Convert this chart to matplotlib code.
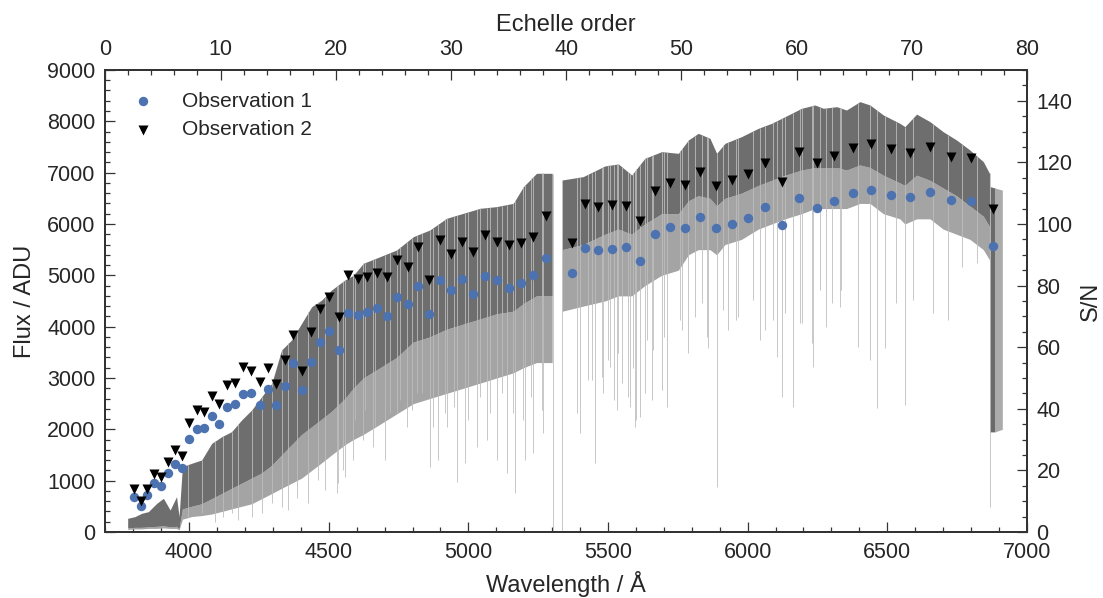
import numpy as np
import matplotlib
matplotlib.use("Agg")
import matplotlib.pyplot as plt
from matplotlib.ticker import MultipleLocator

plt.rcParams['font.family'] = ['Liberation Sans', 'DejaVu Sans']

# ---------------- spectrum ----------------
env_wl = [3780, 3806, 3830, 3854, 3884, 3908, 3932, 3955, 3964, 3976, 4009, 4045, 4081, 4117,
          4152, 4188, 4224, 4260, 4296, 4331, 4367, 4403, 4439, 4475, 4510, 4558, 4588, 4624,
          4684, 4743, 4803, 4862, 4922, 4982, 5042, 5101, 5161, 5197, 5244, 5300, np.nan,
          5336, 5411, 5489, 5537, 5585, 5632, 5692, 5752, 5788, 5823, 5865, 5889, 5919, 5978,
          6038, 6086, 6134, 6193, 6241, 6271, 6319, 6354, 6402, 6438, 6486, 6545, 6563, 6605,
          6653, 6700, 6748, 6796, 6844, 6866]
flux_top = [266, 299, 364, 396, 558, 656, 428, 688, 299, 1273, 1338, 1403, 1727, 1857,
            1954, 2182, 2377, 2636, 2896, 3545, 3740, 4065, 4389, 4519, 4714, 4909, 5000, 5234,
            5364, 5493, 5753, 5883, 6110, 6208, 6305, 6338, 6402, 6727, 6987, 6987, np.nan,
            6857, 6922, 7130, 7169, 6954, 7279, 7409, 7376, 7636, 7766, 7669, 7376, 7571, 7701,
            7863, 7961, 8091, 8253, 8318, 8253, 8285, 8220, 8383, 8318, 8123, 7961, 7896, 8140,
            7993, 7798, 7636, 7441, 7214, 6987]
flux_core = [80, 90, 90, 100, 110, 120, 100, 110, 60, 450, 500, 550, 650, 750,
             850, 950, 1050, 1150, 1300, 1500, 1700, 1900, 2050, 2200, 2350, 2600, 2800, 3000,
             3200, 3400, 3700, 3800, 3950, 4050, 4150, 4250, 4300, 4450, 4600, 4600, np.nan,
             5500, 5600, 5800, 5900, 5800, 6000, 6200, 6200, 6450, 6550, 6500, 6350, 6500, 6600,
             6750, 6850, 6950, 7050, 7100, 7100, 7100, 7050, 7150, 7100, 6950, 6800, 6750, 6950,
             6850, 6700, 6550, 6350, 6150, 5950]
flux_mid = [50, 60, 60, 70, 70, 80, 70, 70, 40, 250, 300, 320, 350, 400,
            450, 500, 550, 650, 750, 850, 950, 1050, 1200, 1350, 1500, 1700, 1800, 1900,
            2100, 2300, 2500, 2600, 2700, 2800, 2900, 3000, 3100, 3200, 3300, 3300, np.nan,
            4300, 4400, 4500, 4600, 4600, 4800, 5000, 5100, 5400, 5500, 5500, 5400, 5600, 5700,
            5900, 6000, 6100, 6200, 6300, 6300, 6300, 6300, 6400, 6400, 6200, 6100, 6000, 6100,
            6100, 5900, 5800, 5700, 5500, 5300]

# telluric B band at the red end
band_wl = [6867, 6886, 6912]
band_top = [6730, 6700, 6660]
band_bot = [1950, 1950, 2000]

# deep absorption lines: wavelength and bottom flux
line_wl = [3997, 4045, 4093, 4123, 4152, 4176, 4224, 4260, 4296, 4331, 4355, 4385, 4427, 4463,
           4487, 4528, 4534, 4552, 4558, 4588, 4624, 4660, 4701, 4743, 4779, 4815, 4862, 4892,
           4922, 4958, 4988, 5030, 5065, 5101, 5137, 5167, 5203, 5232, 5268, 5302, 5334, 5400,
           5429, 5453, 5477, 5507, 5531, 5549, 5573, 5597, 5614, 5656, 5692, 5710, 5764, 5811,
           5835, 5859, 5891, 5931, 5966, 6020, 6062, 6104, 6122, 6163, 6193, 6229, 6259, 6301,
           6336, 6396, 6438, 6462, 6492, 6533, 6563, 6593, 6665, 6718, 6766, 6820, 6869,
           4594, 4630, 4666, 4719, 4755, 4797, 4833, 4874, 4916, 4948, 4998, 5040, 5077, 5119,
           5161, 5197, 5226, 5262, 5390, 5441, 5483, 5521, 5578, 5602, 5632, 5501, 5537, 5590,
           5640, 5662, 5700, 5757, 5787, 5853, 5913, 5960, 6044, 6092, 6133, 6187, 6235, 6282,
           6330]
line_bot = [299, 364, 201, 299, 364, 234, 299, 364, 558, 493, 428, 656, 558, 1013,
            818, 753, 948, 1208, 1078, 1403, 1792, 1663, 1403, 2312, 2052, 2701, 1273, 1403,
            2052, 981, 1338, 1663, 1792, 1403, 1143, 753, 1403, 1533, 1922, 0, 0, 1922,
            2961, 1338, 3026, 3221, 2377, 2896, 2636, 2052, 2247, 2571, 2766, 2442, 3935, 4195,
            4455, 3578, 883, 3935, 4195, 4520, 3935, 3416, 2636, 2442, 4065, 3675, 4714, 4455,
            4714, 3610, 3351, 2410, 3578, 4455, 2474, 4520, 4260, 4130, 5169, 5233, 494,
            2182, 2377, 2052, 2312, 2572, 2377, 2701, 2052, 2312, 2442, 2182, 2637, 2312, 2701,
            2312, 2182, 2637, 2377, 2312, 2961, 2701, 2572, 2442, 2182, 2701, 3351, 3481, 3189,
            3741, 3546, 3806, 4130, 3481, 3806, 4325, 4130, 3741, 4130, 4260, 4065, 3221, 4000,
            4390]

# ---------------- S/N per order ----------------
obs_wl = [3803, 3827, 3850, 3874, 3899, 3926, 3951, 3976, 4001, 4027, 4054, 4082, 4108, 4136,
          4164, 4193, 4222, 4253, 4281, 4312, 4343, 4372, 4404, 4435, 4468, 4500, 4536, 4568,
          4604, 4638, 4674, 4709, 4745, 4783, 4821, 4859, 4897, 4937, 4977, 5018, 5060, 5102,
          5145, 5188, 5231, 5278, 5370, 5417, 5465, 5515, 5564, 5615, 5669, 5721, 5776, 5830,
          5887, 5944, 6002, 6062, 6122, 6184, 6247, 6311, 6376, 6443, 6512, 6582, 6654, 6728,
          6801, 6877]
sn_obs1 = [11.3, 8.5, 12.0, 16.0, 15.0, 19.1, 22.2, 20.9, 30.2, 33.3, 33.8, 37.6, 35.2, 40.6,
           41.7, 44.9, 45.2, 41.3, 46.5, 41.1, 47.3, 54.9, 46.0, 55.1, 61.6, 65.4, 59.0, 71.2,
           70.4, 71.4, 72.8, 70.0, 76.2, 74.1, 79.7, 70.9, 81.9, 78.6, 82.0, 77.4, 83.1, 81.7,
           79.1, 80.9, 83.4, 89.1, 84.0, 92.1, 91.7, 91.9, 92.5, 88.1, 96.8, 99.0, 98.7, 102.4,
           98.6, 100.1, 102.0, 105.4, 99.7, 108.5, 105.3, 107.4, 110.1, 111.0, 109.5, 108.8, 110.5, 107.9,
           107.5, 93.0]
sn_obs2 = [14.1, 10.1, 14.1, 18.7, 18.0, 22.6, 26.5, 24.6, 35.3, 39.5, 39.0, 44.3, 41.7, 47.7,
           48.4, 53.6, 52.4, 48.8, 53.2, 48.2, 55.8, 64.1, 52.4, 64.8, 72.3, 76.2, 69.7, 83.5,
           82.0, 82.9, 84.2, 82.7, 88.3, 85.9, 92.4, 81.8, 94.8, 90.4, 94.1, 90.8, 96.4, 94.1,
           93.1, 93.9, 95.7, 102.7, 93.7, 106.5, 105.6, 106.3, 105.9, 100.9, 110.7, 113.4, 112.8, 117.0,
           112.4, 114.3, 116.1, 119.9, 113.6, 123.4, 119.9, 122.0, 124.6, 125.9, 124.3, 123.2, 125.0, 121.9,
           121.4, 105.0]

# ---------------- figure ----------------
TXT = '#262626'
SPN = '#333333'
fig = plt.figure(figsize=(11.03, 5.98), dpi=100)
ax = fig.add_axes([0.0955, 0.1104, 0.8355, 0.7726])

wl = np.array(env_wl, float)
top = np.array(flux_top, float)
core = np.array(flux_core, float)
mid = np.array(flux_mid, float)
cut = np.where(np.isnan(wl))[0]
segs = []
start = 0
for c in list(cut) + [len(wl)]:
    segs.append(slice(start, c))
    start = c + 1

valid = ~np.isnan(wl)
lw_arr = np.array(line_wl, float)
lb_arr = np.array(line_bot, float)
line_top = np.interp(lw_arr, wl[valid], top[valid])

for s in segs:
    ax.fill_between(wl[s], mid[s], core[s], color='#a4a4a4', lw=0, zorder=2)
    ax.fill_between(wl[s], core[s], top[s], color='#6e6e6e', lw=0, zorder=3)

ax.fill_between(band_wl[:2], band_bot[:2], band_top[:2], color='#6a6a6a', lw=0, zorder=3)
ax.fill_between(band_wl[1:], band_bot[1:], band_top[1:], color='#ababab', lw=0, zorder=3)

# deep absorption lines: light streaks through the band, grey below it
ax.vlines(lw_arr, lb_arr, line_top, color='#bdbdbd', lw=0.65, alpha=0.9, zorder=4)

ax.set_xlim(3700, 7000)
ax.set_ylim(0, 9000)
ax.xaxis.set_major_locator(MultipleLocator(500))
ax.xaxis.set_minor_locator(MultipleLocator(100))
ax.yaxis.set_major_locator(MultipleLocator(1000))
ax.yaxis.set_minor_locator(MultipleLocator(200))
ax.set_xlabel('Wavelength / Å', fontsize=17, color=TXT, labelpad=6)
ax.set_ylabel('Flux / ADU', fontsize=17, color=TXT, labelpad=8)

ax_top = ax.twiny()
ax_top.set_xlim(0, 80)
ax_top.xaxis.set_major_locator(MultipleLocator(10))
ax_top.xaxis.set_minor_locator(MultipleLocator(2))
ax_top.set_xlabel('Echelle order', fontsize=17, color=TXT, labelpad=6)

ax_r = ax.twinx()
ax_r.set_ylim(0, 150)
ax_r.yaxis.set_major_locator(MultipleLocator(20))
ax_r.yaxis.set_minor_locator(MultipleLocator(5))
ax_r.set_ylabel('S/N', fontsize=17, color=TXT, labelpad=5)
ax_r.scatter(obs_wl, sn_obs1, s=46, marker='o', color='#4c72b0', lw=0, label='Observation 1', zorder=5)
ax_r.scatter(obs_wl, sn_obs2, s=52, marker='v', color='black', lw=0, label='Observation 2', zorder=5)
ax_r.set_xlim(3700, 7000)

for a in (ax, ax_top, ax_r):
    for sp in a.spines.values():
        sp.set_color(SPN)
        sp.set_linewidth(1.2)
    a.tick_params(which='major', direction='in', length=7, width=0.9, color=SPN,
                  labelsize=15.5, labelcolor=TXT, pad=7)
    a.tick_params(which='minor', direction='in', length=3.5, width=0.9, color=SPN)

leg = ax_r.legend(loc='upper left', bbox_to_anchor=(0.0, 1.0), frameon=False, fontsize=15,
                  handletextpad=1.1, borderaxespad=0.45, labelspacing=0.45, scatterpoints=1,
                  borderpad=0.6, handlelength=1.55)
for t in leg.get_texts():
    t.set_color(TXT)

fig.savefig('out.png', dpi=100)
